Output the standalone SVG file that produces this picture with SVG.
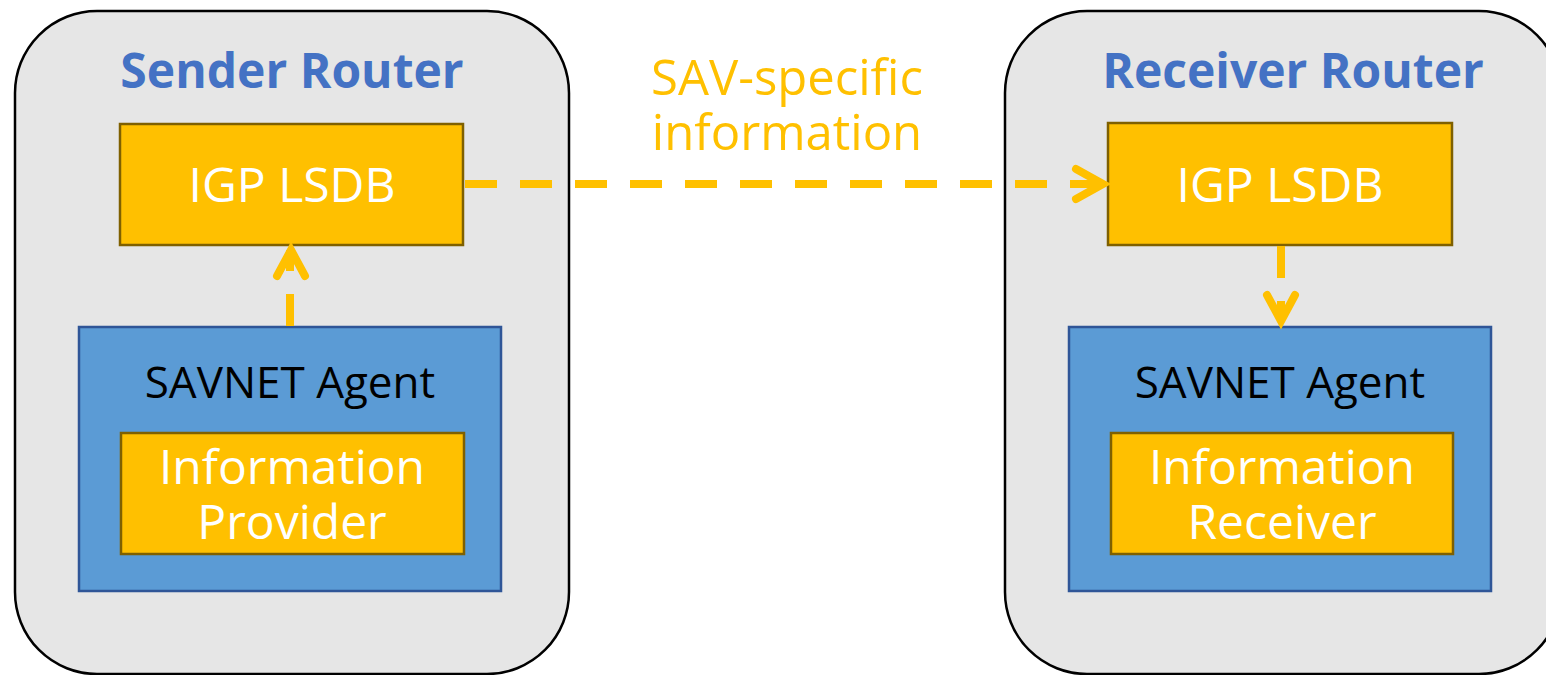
<svg xmlns="http://www.w3.org/2000/svg" width="1546" height="675" viewBox="0 0 1546 675">
<defs>
<style>
.router{fill:#E6E6E6;stroke:#000;stroke-width:2.5}
.title{font-family:"Open Sans","Noto Sans",sans-serif;font-weight:bold;font-size:48px;fill:#4472C4;text-anchor:middle}
.lsdb{fill:#FFC000;stroke:#7F6000;stroke-width:2.5}
.agent{fill:#5B9BD5;stroke:#2F5597;stroke-width:2.5}
.wt{font-family:"Open Sans","Noto Sans",sans-serif;font-size:48px;fill:#FFFFFF;text-anchor:middle}
.bt{font-family:"Open Sans","Noto Sans",sans-serif;font-size:44px;fill:#000;text-anchor:middle}
.ot{font-family:"Open Sans","Noto Sans",sans-serif;font-size:49px;fill:#FFC000;text-anchor:middle}
.dash{fill:none;stroke:#FFC000;stroke-width:8;stroke-dasharray:32 23}
.head{fill:none;stroke:#FFC000;stroke-width:8;stroke-linecap:round;stroke-linejoin:miter}
</style>
</defs>
<g id="sender-router">
<rect class="router" x="15" y="11" width="554" height="663" rx="82" ry="82"/>
<text class="title" x="292" y="88">Sender Router</text>
</g>
<g id="receiver-router">
<rect class="router" x="1005" y="11" width="556" height="663" rx="82" ry="82"/>
<text class="title" x="1293" y="88">Receiver Router</text>
</g>
<g id="sender-lsdb">
<rect class="lsdb" x="120" y="124" width="343" height="121"/>
<text class="wt" x="292" y="202">IGP LSDB</text>
</g>
<g id="sender-agent">
<rect class="agent" x="79" y="327" width="422" height="264"/>
<text class="bt" x="290" y="398">SAVNET Agent</text>
</g>
<g id="info-provider">
<rect class="lsdb" x="121" y="433" width="343" height="121"/>
<text class="wt" x="292" y="484">Information</text>
<text class="wt" x="292" y="539">Provider</text>
</g>
<g id="receiver-lsdb">
<rect class="lsdb" x="1108" y="123" width="344" height="122"/>
<text class="wt" x="1280" y="202">IGP LSDB</text>
</g>
<g id="receiver-agent">
<rect class="agent" x="1069" y="327" width="422" height="264"/>
<text class="bt" x="1280" y="398">SAVNET Agent</text>
</g>
<g id="info-receiver">
<rect class="lsdb" x="1111" y="433" width="342" height="121"/>
<text class="wt" x="1282" y="484">Information</text>
<text class="wt" x="1282" y="539">Receiver</text>
</g>
<g id="label-sav">
<text class="ot" x="787" y="95">SAV-specific</text>
<text class="ot" x="787" y="150">information</text>
</g>
<g id="connectors">
<path class="dash" d="M465 184 H1100"/>
<path class="head" d="M1076 169 L1103 184 L1076 199"/>
<path class="dash" d="M290 326 V250"/>
<path class="head" d="M277 276 L291 250 L305 276"/>
<path class="dash" d="M1281 246 V320"/>
<path class="head" d="M1267 295 L1281 321 L1295 295"/>
</g>
</svg>
